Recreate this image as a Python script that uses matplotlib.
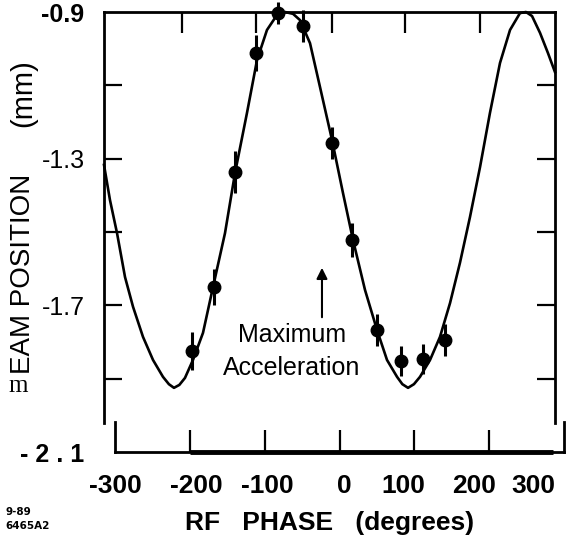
import matplotlib
matplotlib.use("Agg")
import matplotlib.pyplot as plt

plt.rcParams['font.family'] = ['Liberation Sans', 'DejaVu Sans']

# measured beam position vs RF phase
phase = [-197, -168, -140, -112, -82, -49, -10, 17, 50, 82, 112, 141]
position = [-1.824, -1.650, -1.336, -1.012, -0.903, -0.938, -1.257, -1.522,
            -1.767, -1.852, -1.846, -1.794]
pos_err = [0.052, 0.048, 0.058, 0.048, 0.030, 0.044, 0.044, 0.047,
           0.044, 0.041, 0.041, 0.044]

# fitted curve
fit_x = [-314.7, -306.7, -297.3, -286.6, -275.9, -262.6, -249.2, -235.9, -228.0,
         -221.2, -214.0, -206.5, -195.8, -182.4, -169.0, -153.0, -139.6, -123.6,
         -110.2, -96.9, -83.5, -72.8, -62.1, -52.8, -39.4, -26.0, -10.0, 4.7,
         18.1, 34.1, 50.1, 63.5, 76.9, 84.0, 91.6, 99.5, 107.6, 121.0, 134.3,
         147.7, 161.0, 174.4, 187.8, 201.1, 214.5, 227.9, 241.2, 249.2, 257.3,
         268.0, 278.6, 288.0]
fit_y = [-1.317, -1.413, -1.503, -1.623, -1.704, -1.786, -1.849, -1.895, -1.915,
         -1.925, -1.917, -1.898, -1.849, -1.775, -1.650, -1.503, -1.339, -1.175,
         -1.031, -0.949, -0.908, -0.900, -0.905, -0.922, -0.985, -1.105, -1.249,
         -1.394, -1.522, -1.658, -1.767, -1.849, -1.895, -1.915, -1.925, -1.915,
         -1.895, -1.849, -1.786, -1.694, -1.584, -1.459, -1.323, -1.175, -1.039,
         -0.949, -0.903, -0.900, -0.911, -0.957, -1.012, -1.064]

x_ticks = [-300, -200, -100, 0, 100, 200, 300]
# the printed labels sit a little off their ticks
x_label_pos = [-299, -192, -96, 7, 85, 180, 259]
x_labels = ['-300', '-200', '-100', '0', '100', '200', '300']
top_ticks = [-210, -111, -10, 88, 188]
y_ticks = [-0.9, -1.1, -1.3, -1.5, -1.7, -1.9, -2.1]
y_labels = ['-0.9', '', '-1.3', '', '-1.7', '', '- 2 . 1']

W, H = 571, 543
fig = plt.figure(figsize=(W / 100, H / 100), dpi=100)

# main frame (left, top, right)
ax = fig.add_axes([104 / W, (H - 452) / H, 451 / W, 440 / H])
ax.set_xlim(-314.7, 288.0)
ax.set_ylim(-2.1, -0.9)
ax.patch.set_visible(False)
ax.spines['bottom'].set_visible(False)
for s in ['left', 'right', 'top']:
    ax.spines[s].set_linewidth(2)
ax.spines['left'].set_bounds(-2.02, -0.9)
ax.spines['right'].set_bounds(-2.02, -0.9)

ax.set_xticks(top_ticks)
ax.tick_params(axis='x', bottom=False, top=True, labelbottom=False,
               direction='in', length=15, width=1.6)
ax.set_yticks(y_ticks)
ax.set_yticklabels(y_labels, fontsize=18)
ax.tick_params(axis='y', left=True, right=True, direction='in',
               length=13, width=1.6, pad=14)
yt = ax.yaxis.get_major_ticks()
for t in (yt[0], yt[-1]):
    t.tick1line.set_visible(False)
    t.tick2line.set_visible(False)
for lab in ax.get_yticklabels():
    if lab.get_text() in ('-0.9', '- 2 . 1'):
        lab.set_fontweight('bold')

ax.plot(fit_x, fit_y, color='black', lw=1.9, clip_on=False)
ax.errorbar(phase, position, yerr=pos_err, fmt='o', color='black', ms=9,
            elinewidth=2.2, capsize=0, clip_on=False)

ax.annotate('', xy=(-23.4, -1.59), xytext=(-23.4, -1.74),
            arrowprops=dict(arrowstyle='-|>', color='black', lw=1.5,
                            mutation_scale=16))
ax.text(-63.5, -1.781, 'Maximum', ha='center', va='center', fontsize=18)
ax.text(-63.5, -1.871, 'Acceleration', ha='center', va='center', fontsize=18)

# offset bottom axis
ax2 = fig.add_axes([115 / W, (H - 452) / H, 449 / W, 440 / H])
ax2.set_xlim(-300, 300)
ax2.set_ylim(-2.1, -0.9)
ax2.patch.set_visible(False)
ax2.spines['top'].set_visible(False)
for s in ['left', 'right', 'bottom']:
    ax2.spines[s].set_linewidth(2)
ax2.spines['left'].set_bounds(-2.1, -2.018)
ax2.spines['right'].set_bounds(-2.1, -2.018)
ax2.set_yticks([])
ax2.set_xticks(x_ticks)
ax2.set_xticklabels([])
ax2.tick_params(axis='x', which='major', direction='in', length=16, width=1.6)
ax2.set_xticks(x_label_pos, minor=True)
ax2.set_xticklabels(x_labels, minor=True, fontsize=19, fontweight='bold')
ax2.tick_params(axis='x', which='minor', length=0, pad=16)
xt = ax2.xaxis.get_major_ticks()
for t in (xt[0], xt[-1]):
    t.tick1line.set_visible(False)
# heavier stretch of the rule in the original print
ax2.plot([-200, 285], [-2.1, -2.1], color='black', lw=3.5,
         solid_capstyle='butt', clip_on=False)

fig.text(330 / W, 1 - 523 / H, 'RF   PHASE   (degrees)', ha='center',
         va='center', fontsize=19, fontweight='bold')
fig.text(23 / W, 1 - 274 / H, 'EAM POSITION', rotation=90, ha='center',
         va='center', fontsize=20)
fig.text(23 / W, 1 - 93 / H, '(mm)', rotation=90, ha='center', va='center',
         fontsize=21)
fig.text(18 / W, 1 - 386 / H, 'm', ha='center', va='center', fontsize=18,
         family='Liberation Serif')
fig.text(5 / W, 1 - 519 / H, '9-89\n6465A2', ha='left', va='center',
         fontsize=7.5, fontweight='bold', family='DejaVu Sans', linespacing=1.4)

fig.savefig('out.png', dpi=100)
